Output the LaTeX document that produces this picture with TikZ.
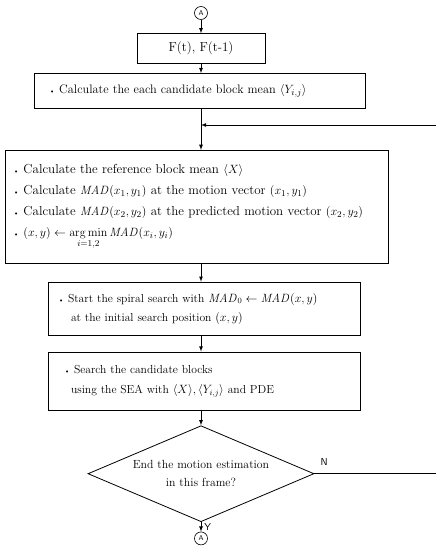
\documentclass[tikz,border=0pt]{standalone}
\usepackage{amsmath}
\usetikzlibrary{positioning, shapes.geometric, arrows}

\newcommand{\bul}{{\scriptsize\textbullet}\ }
\newcommand{\mad}{\mathit{MAD}}

\begin{document}
\begin{tikzpicture}[x=1pt, y=1pt, >=latex, line width=0.8pt,
    font=\fontsize{12}{14}\selectfont,
    every node/.style={inner sep=0pt},
    conn/.style={circle, draw, line width=0.6pt, minimum size=13pt, font=\fontsize{7}{8}\selectfont\sffamily},
    proc/.style={draw, rectangle, align=left},
    decide/.style={diamond, draw, align=center, aspect=2.3}]
  \useasboundingbox (0,0) rectangle (436,-549);
  \node[conn] (topA) at (201,-13) {A};
  \node[proc, align=center, minimum width=128pt, minimum height=30pt, below=13.5pt of topA,
        font=\fontsize{13}{14}\selectfont] (frames) {F(t), F(t-1)};
  \node[proc, text width=301pt, inner xsep=15pt, minimum height=35pt, below=9pt of frames, xshift=-1.5pt,
        font=\fontsize{12.3}{14}\selectfont] (mean)
    {\bul Calculate the each candidate block mean $\langle Y_{i,j}\rangle$};
  \node[proc, text width=367pt, inner xsep=8pt, minimum height=113pt, below=41pt of mean, xshift=-3pt,
        font=\fontsize{13}{21}\selectfont] (refblk)
    {\bul Calculate the reference block mean $\langle X\rangle$\\
     \bul Calculate $\mad(x_1, y_1)$ at the motion vector $(x_1, y_1)$\\
     \bul Calculate $\mad(x_2, y_2)$ at the predicted motion vector $(x_2, y_2)$\\
     \bul $(x, y) \leftarrow \operatorname*{arg\,min}\limits_{i=1,2} \mad(x_i, y_i)$};
  \node[proc, text width=292pt, inner xsep=10pt, minimum height=53pt, below=18pt of refblk, xshift=7.5pt,
        font=\fontsize{11.6}{19}\selectfont] (spiral)
    {\bul Start the spiral search with $\mad_0 \leftarrow \mad(x, y)$\\
     \hspace*{13pt}at the initial search position $(x, y)$};
  \node[proc, text width=292pt, inner xsep=10pt, minimum height=58pt, below=16pt of spiral,
        font=\fontsize{11.6}{20}\selectfont] (sea)
    {\hspace*{6pt}\bul Search the candidate blocks\\
     \hspace*{13pt}using the SEA with $\langle X\rangle,\langle Y_{i,j}\rangle$ and PDE};
  \node[decide, minimum width=226pt, minimum height=96pt, below=15pt of sea, xshift=-3pt,
        font=\fontsize{11.8}{18}\selectfont] (decision)
    {End the motion estimation\\in this frame?};
  \node[conn, below=9.5pt of decision] (botA) {A};
  \coordinate (back) at (436,-125);
  \coordinate (noEnd) at (436,-470);
  % main flow
  \draw[->] (topA) -- (frames);
  \draw[->] (frames.south -| topA) -- (mean.north -| topA);
  \draw[->] (mean.south -| topA) -- (refblk.north -| topA);
  \draw[->] (refblk.south -| topA) -- (spiral.north -| topA);
  \draw[->] (spiral.south -| topA) -- (sea.north -| topA);
  \draw[->] (sea.south -| topA) -- (decision.north);
  \draw[->] (decision.south) -- (botA) node[midway, right=3pt, font=\fontsize{10}{12}\selectfont\sffamily] {Y};
  % loop back
  \draw (decision.east) -- (decision.east -| noEnd) node[pos=0.08, above=8pt, font=\fontsize{10}{12}\selectfont\sffamily] {N};
  \draw[->] (back) -- (back -| topA);
\end{tikzpicture}
\end{document}
